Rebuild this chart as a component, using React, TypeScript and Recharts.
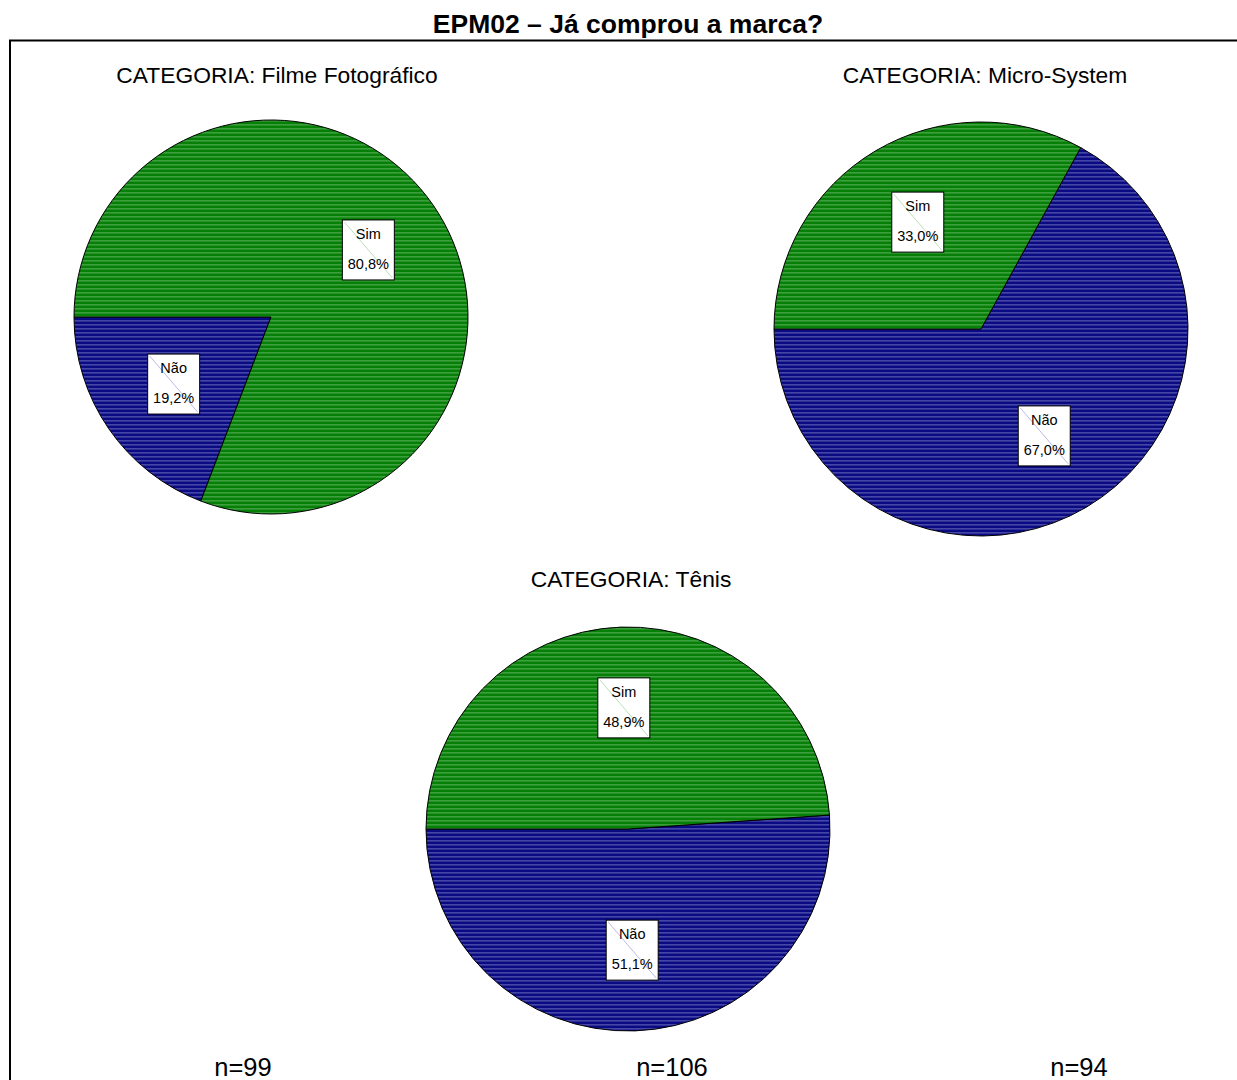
import { PieChart, Pie, Cell } from "recharts";

// answer categories, in drawing order (Não first, starting at 9 o'clock)
const answers = ["Não", "Sim"];

// percentages per product category
const filmeShares = [19.2, 80.8];
const microShares = [67.0, 33.0];
const tenisShares = [51.1, 48.9];

const panelTitles = [
  "CATEGORIA: Filme Fotográfico",
  "CATEGORIA: Micro-System",
  "CATEGORIA: Tênis",
];
const sampleSizes = ["n=99", "n=106", "n=94"];

const chartTitle = "EPM02 – Já comprou a marca?";

const toRows = (shares: number[]) =>
  answers.map((name, i) => ({ name, value: shares[i] }));

const fills: Record<string, string> = {
  Sim: "url(#stripeSim)",
  Não: "url(#stripeNao)",
};
const diagColors: Record<string, string> = {
  Sim: "#a8d8a8",
  Não: "#a8a8e0",
};

const RADIAN = Math.PI / 180;
const FONT = "'Liberation Sans', Arial, Helvetica, sans-serif";

const renderLabel = (props: any) => {
  const { cx, cy, midAngle, outerRadius, value } = props;
  const name = props.payload?.name ?? props.name;
  const r = outerRadius * 0.6;
  const x = cx + r * Math.cos(-midAngle * RADIAN);
  const y = cy + r * Math.sin(-midAngle * RADIAN);
  const w = 52;
  const h = 60;
  return (
    <g>
      <rect
        x={x - w / 2}
        y={y - h / 2}
        width={w}
        height={h}
        fill="#ffffff"
        stroke="#000000"
        strokeWidth={1}
      />
      <line
        x1={x - w / 2 + 2}
        y1={y - h / 2 + 2}
        x2={x + w / 2 - 2}
        y2={y + h / 2 - 2}
        stroke={diagColors[name]}
        strokeWidth={0.8}
      />
      <text
        x={x}
        y={y - 11}
        textAnchor="middle"
        fontFamily={FONT}
        fontSize={14.5}
        fill="#000"
      >
        {name}
      </text>
      <text
        x={x}
        y={y + 19}
        textAnchor="middle"
        fontFamily={FONT}
        fontSize={14.5}
        fill="#000"
      >
        {value.toFixed(1).replace(".", ",") + "%"}
      </text>
    </g>
  );
};

const panels = [
  { rows: toRows(filmeShares), cx: 271, cy: 317, r: 197 },
  { rows: toRows(microShares), cx: 981, cy: 329, r: 207 },
  { rows: toRows(tenisShares), cx: 628, cy: 829, r: 202 },
];

export default function App() {
  return (
    <div
      style={{
        position: "absolute",
        left: 0,
        top: 0,
        width: 1237,
        height: 1080,
        background: "#ffffff",
        overflow: "hidden",
      }}
    >
      {/* striped fills shared by all pies */}
      <svg width={0} height={0} style={{ position: "absolute" }}>
        <defs>
          <pattern
            id="stripeSim"
            patternUnits="userSpaceOnUse"
            width={8}
            height={4}
          >
            <rect width={8} height={4} fill="#067f06" />
            <rect width={8} height={1.6} fill="#3c9e3c" />
          </pattern>
          <pattern
            id="stripeNao"
            patternUnits="userSpaceOnUse"
            width={8}
            height={4}
          >
            <rect width={8} height={4} fill="#0a0a82" />
            <rect width={8} height={1.6} fill="#4646a6" />
          </pattern>
        </defs>
      </svg>

      <div style={{ position: "absolute", left: 0, top: 0 }}>
        <PieChart
          width={1237}
          height={1080}
          margin={{ top: 0, right: 0, bottom: 0, left: 0 }}
        >
          {panels.map((p, k) => (
            <Pie
              key={k}
              data={p.rows}
              dataKey="value"
              nameKey="name"
              cx={p.cx}
              cy={p.cy}
              outerRadius={p.r}
              startAngle={180}
              endAngle={540}
              stroke="#000000"
              strokeWidth={1}
              label={renderLabel}
              labelLine={false}
              isAnimationActive={false}
            >
              {p.rows.map((row) => (
                <Cell key={row.name} fill={fills[row.name]} />
              ))}
            </Pie>
          ))}
        </PieChart>
      </div>

      {/* frame and text layer */}
      <svg
        width={1237}
        height={1080}
        style={{ position: "absolute", left: 0, top: 0, pointerEvents: "none" }}
      >
        <line x1={9} y1={40.5} x2={1237} y2={40.5} stroke="#000" strokeWidth={2} />
        <line x1={10} y1={40} x2={10} y2={1080} stroke="#000" strokeWidth={2} />
        <text
          x={628}
          y={33}
          textAnchor="middle"
          fontFamily={FONT}
          fontWeight="bold"
          fontSize={26.5}
        >
          {chartTitle}
        </text>
        <text x={277} y={83} textAnchor="middle" fontFamily={FONT} fontSize={22.8}>
          {panelTitles[0]}
        </text>
        <text x={985} y={83} textAnchor="middle" fontFamily={FONT} fontSize={22.8}>
          {panelTitles[1]}
        </text>
        <text x={631} y={587} textAnchor="middle" fontFamily={FONT} fontSize={22.8}>
          {panelTitles[2]}
        </text>
        <text x={243} y={1076} textAnchor="middle" fontFamily={FONT} fontSize={25.5}>
          {sampleSizes[0]}
        </text>
        <text x={672} y={1076} textAnchor="middle" fontFamily={FONT} fontSize={25.5}>
          {sampleSizes[1]}
        </text>
        <text x={1079} y={1076} textAnchor="middle" fontFamily={FONT} fontSize={25.5}>
          {sampleSizes[2]}
        </text>
      </svg>
    </div>
  );
}
